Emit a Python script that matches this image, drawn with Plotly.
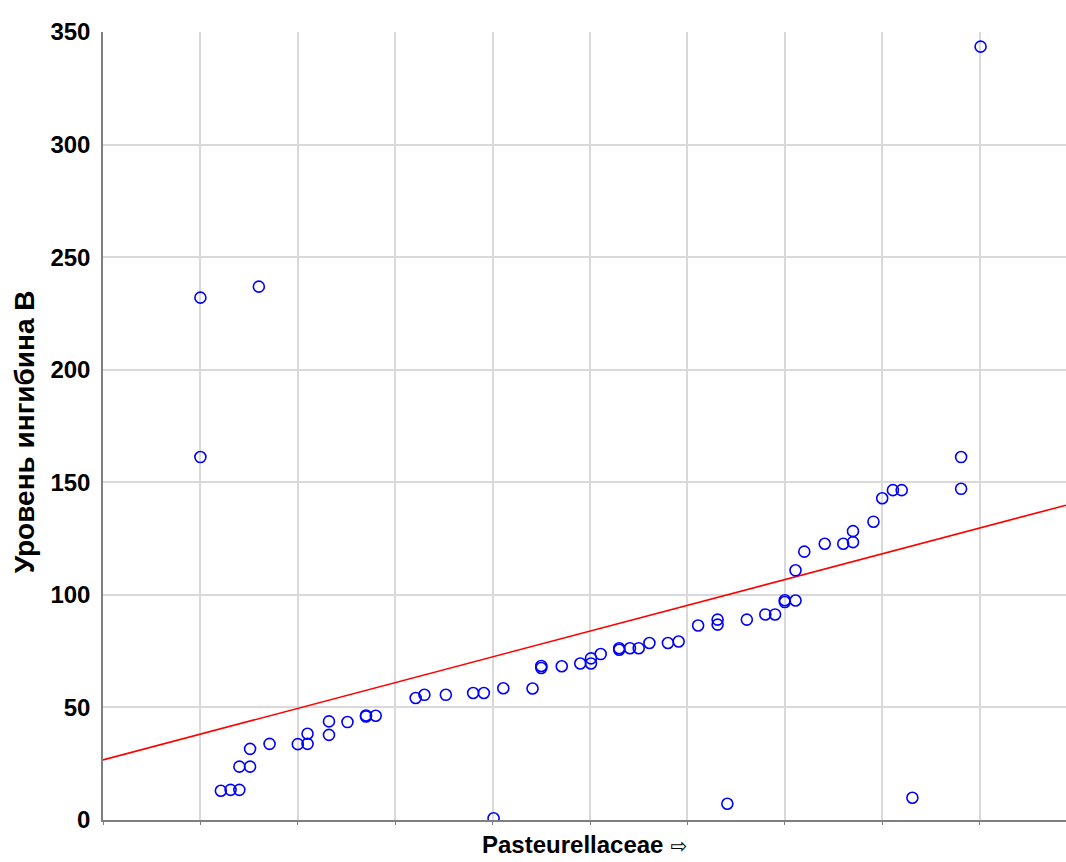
import plotly.graph_objects as go

# Pasteurellaceae abundance (axis units) vs. inhibin B level
pasteurellaceae = [
    1.00, 1.00, 1.60,
    1.21, 1.31, 1.40, 1.40, 1.51, 1.51, 1.71,
    2.00, 2.10, 2.10, 2.32, 2.32, 2.51, 2.70, 2.70, 2.80,
    3.21, 3.30, 3.52, 3.80, 3.91, 4.01, 4.11, 4.41, 4.50, 4.50, 4.71,
    4.90, 5.01, 5.01, 5.11, 5.30, 5.30, 5.41, 5.50, 5.61, 5.80, 5.91,
    6.11, 6.31, 6.31, 6.41, 6.61, 6.80, 6.90, 7.00, 7.00, 7.11, 7.11,
    7.20, 7.41, 7.60, 7.70, 7.70, 7.91, 8.00, 8.11, 8.20, 8.31,
    8.81, 8.81, 9.01,
]
inhibin_b = [
    232.0, 161.2, 236.9,
    13.0, 13.4, 13.4, 23.7, 23.7, 31.6, 33.8,
    33.7, 33.8, 38.3, 37.8, 43.8, 43.5, 46.0, 46.4, 46.3,
    54.2, 55.6, 55.6, 56.4, 56.4, 0.8, 58.5, 58.4, 67.5, 68.4, 68.3,
    69.5, 69.5, 71.8, 73.7, 75.6, 76.3, 76.3, 76.3, 78.6, 78.6, 79.3,
    86.4, 86.8, 89.0, 7.2, 89.0, 91.3, 91.3, 96.8, 97.6, 97.5, 110.9,
    119.2, 122.7, 122.7, 123.4, 128.3, 132.5, 142.9, 146.5, 146.5, 9.9,
    147.1, 161.2, 343.5,
]

# linear trend line
fit_intercept = 26.7
fit_slope = 11.44

x_range = [0, 9.887]
y_ticks = [0, 50, 100, 150, 200, 250, 300, 350]

fig = go.Figure()

fit_x = x_range
fit_y = [fit_intercept + fit_slope * v for v in fit_x]
fig.add_trace(go.Scatter(
    x=fit_x, y=fit_y, mode="lines",
    line=dict(color="#ff0000", width=1.6),
    hoverinfo="skip", showlegend=False,
))

fig.add_trace(go.Scatter(
    x=pasteurellaceae, y=inhibin_b, mode="markers",
    marker=dict(symbol="circle-open", size=11, color="#0000ff",
                line=dict(width=1.6, color="#0000ff")),
    showlegend=False,
))

font_family = "Liberation Sans, Arial, sans-serif"

fig.update_layout(
    width=1066, height=862,
    margin=dict(l=103, r=0, t=32, b=42),
    paper_bgcolor="white", plot_bgcolor="white",
    xaxis=dict(
        range=x_range, dtick=1, tick0=0,
        showgrid=True, gridcolor="#d9d9d9", gridwidth=1.5,
        showline=True, linecolor="#7f7f7f", linewidth=1.5,
        ticks="outside", ticklen=3, tickcolor="#7f7f7f",
        showticklabels=False, zeroline=False,
    ),
    yaxis=dict(
        range=[0, 350], tickvals=y_ticks,
        showgrid=True, gridcolor="#d9d9d9", gridwidth=1.5,
        showline=True, linecolor="#7f7f7f", linewidth=1.5,
        ticks="", ticklabelstandoff=6,
        tickfont=dict(family=font_family, size=24, color="black", weight="bold"),
        zeroline=False,
    ),
    annotations=[
        dict(
            text="<b>Уровень ингибина В</b>", xref="paper", yref="paper",
            x=-0.082, y=0.492, xanchor="center", yanchor="middle",
            textangle=-90, showarrow=False,
            font=dict(family=font_family, size=28, color="black"),
        ),
        dict(
            text="<b>Pasteurellaceae</b> <span style='font-family:DejaVu Sans;font-size:20px'>⇨</span>",
            xref="paper", yref="paper",
            x=0.5, y=-0.031, xanchor="center", yanchor="middle",
            showarrow=False,
            font=dict(family=font_family, size=24, color="black"),
        ),
    ],
)

fig.write_html("out.html")
